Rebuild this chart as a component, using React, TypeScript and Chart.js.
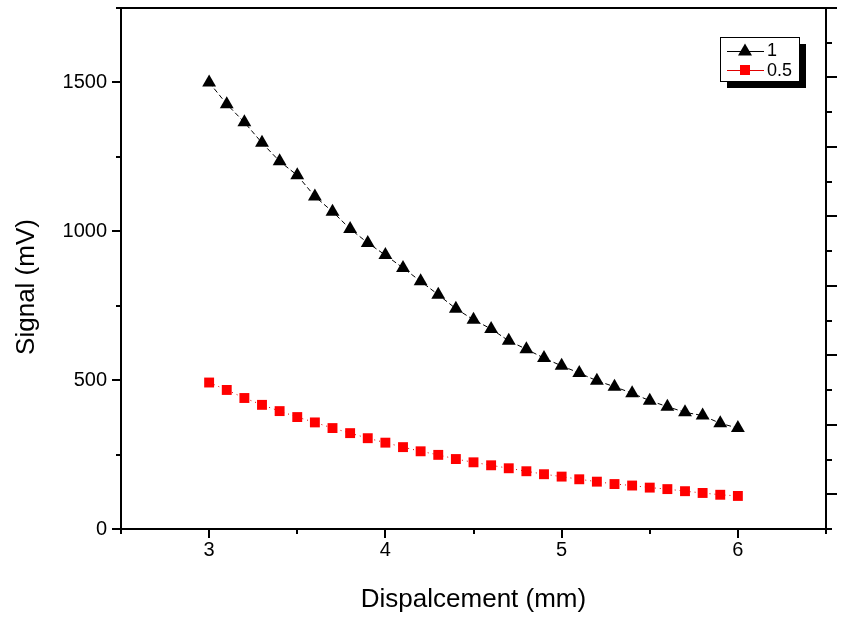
import React, { useEffect, useRef } from "react";
import { Chart, registerables } from "chart.js";

Chart.register(...registerables);

const displacement = [3.0, 3.1, 3.2, 3.3, 3.4, 3.5, 3.6, 3.7, 3.8, 3.9, 4.0, 4.1, 4.2, 4.3, 4.4, 4.5, 4.6, 4.7, 4.8, 4.9, 5.0, 5.1, 5.2, 5.3, 5.4, 5.5, 5.6, 5.7, 5.8, 5.9, 6.0];
const series1Label = "1";
const series1 = [1500, 1427, 1366, 1297, 1235, 1188, 1117, 1066, 1008, 961, 920, 877, 832, 787, 740, 703, 672, 632, 604, 574, 548, 524, 498, 478, 456, 431, 411, 392, 381, 355, 339];
const series2Label = "0.5";
const series2 = [492, 467, 440, 417, 396, 376, 358, 339, 322, 305, 290, 275, 261, 249, 235, 224, 214, 204, 194, 184, 176, 167, 159, 151, 146, 139, 134, 127, 121, 115, 111];

const xMajorTicks = [3, 4, 5, 6];
const xMinorTicks = [2.5, 3.5, 4.5, 5.5, 6.5];
const yMajorTicks = [0, 500, 1000, 1500];
const yMinorTicks = [250, 750, 1250, 1750];
const rightMajorTicks = [0, 1, 2, 3, 4, 5, 6, 7];
const rightMinorTicks = [-0.5, 0.5, 1.5, 2.5, 3.5, 4.5, 5.5, 6.5];

const xTitle = "Dispalcement (mm)";
const yTitle = "Signal (mV)";

const FONT = "'Liberation Sans', Arial, sans-serif";

const tickPlugin = {
  id: "originTicks",
  afterDraw(chart: any) {
    const ctx = chart.ctx;
    const area = chart.chartArea;
    ctx.save();
    ctx.strokeStyle = "#000";
    ctx.lineWidth = 2;
    const specs = [
      { id: "x", major: xMajorTicks, minor: xMinorTicks, side: "bottom", ml: 9, nl: 5 },
      { id: "y", major: yMajorTicks, minor: yMinorTicks, side: "left", ml: 9, nl: 5 },
      { id: "y2", major: rightMajorTicks, minor: rightMinorTicks, side: "right", ml: 11, nl: 6 },
    ];
    for (const s of specs) {
      const scale = chart.scales[s.id];
      const draw = (v: number, len: number) => {
        const p = Math.round(scale.getPixelForValue(v));
        ctx.beginPath();
        if (s.side === "bottom") {
          ctx.moveTo(p, area.bottom);
          ctx.lineTo(p, area.bottom + len);
        } else if (s.side === "left") {
          ctx.moveTo(area.left, p);
          ctx.lineTo(area.left - len, p);
        } else {
          ctx.moveTo(area.right, p);
          ctx.lineTo(area.right + len, p);
        }
        ctx.stroke();
      };
      s.major.forEach((v) => draw(v, s.ml));
      s.minor.forEach((v) => draw(v, s.nl));
    }
    // y axis title (placed like the original, slightly below centre)
    ctx.save();
    ctx.fillStyle = "#000";
    ctx.font = `26px ${FONT}`;
    ctx.textAlign = "center";
    ctx.textBaseline = "middle";
    ctx.translate(27, 287);
    ctx.rotate(-Math.PI / 2);
    ctx.fillText(yTitle, 0, 0);
    ctx.restore();
    ctx.restore();
  },
};

const legendPlugin = {
  id: "originLegend",
  afterDraw(chart: any) {
    const ctx = chart.ctx;
    const area = chart.chartArea;
    const bx = area.right - 106;
    const by = area.top + 29;
    const bw = 79;
    const bh = 44;
    ctx.save();
    ctx.fillStyle = "#000";
    ctx.fillRect(bx + 7, by + 7, bw, bh);
    ctx.fillStyle = "#fff";
    ctx.fillRect(bx, by, bw, bh);
    ctx.strokeStyle = "#000";
    ctx.lineWidth = 1;
    ctx.strokeRect(bx + 0.5, by + 0.5, bw, bh);
    const rows = [by + 13.5, by + 33];
    chart.data.datasets.forEach((ds: any, i: number) => {
      const y = rows[i];
      ctx.strokeStyle = ds.borderColor;
      ctx.lineWidth = 1;
      ctx.beginPath();
      ctx.moveTo(bx + 7, Math.round(y) + 0.5);
      ctx.lineTo(bx + 44, Math.round(y) + 0.5);
      ctx.stroke();
      ctx.fillStyle = ds.pointBackgroundColor;
      ctx.beginPath();
      if (ds.pointStyle === "triangle") {
        const cx = bx + 25;
        ctx.moveTo(cx, y - 7);
        ctx.lineTo(cx + 7, y + 5);
        ctx.lineTo(cx - 7, y + 5);
        ctx.closePath();
      } else {
        ctx.rect(bx + 25 - 5, y - 5, 10, 10);
      }
      ctx.fill();
      ctx.fillStyle = "#000";
      ctx.font = `18px ${FONT}`;
      ctx.textBaseline = "middle";
      ctx.textAlign = "left";
      ctx.fillText(ds.label, bx + 47, y + 1);
    });
    ctx.restore();
  },
};

const noPad = (s: any) => {
  s.paddingTop = 0;
  s.paddingBottom = 0;
  s.paddingLeft = 0;
  s.paddingRight = 0;
};

export default function App() {
  const ref = useRef<HTMLCanvasElement | null>(null);

  useEffect(() => {
    if (!ref.current) return;
    const border = { display: true, color: "#000", width: 2 };
    const chart = new Chart(ref.current, {
      type: "line",
      data: {
        datasets: [
          {
            label: series1Label,
            data: displacement.map((x, i) => ({ x, y: series1[i] })),
            borderColor: "#000",
            borderWidth: 1,
            borderDash: [5, 3],
            pointStyle: "triangle",
            pointRadius: 8,
            pointBackgroundColor: "#000",
            pointBorderWidth: 0,
            tension: 0,
            yAxisID: "y",
          },
          {
            label: series2Label,
            data: displacement.map((x, i) => ({ x, y: series2[i] })),
            borderColor: "#e00000",
            borderWidth: 1,
            borderDash: [1, 4],
            pointStyle: "rect",
            pointRadius: 7,
            pointBackgroundColor: "#ff0000",
            pointBorderWidth: 0,
            tension: 0,
            yAxisID: "y",
          },
        ] as any,
      },
      options: {
        animation: false,
        responsive: false,
        events: [],
        layout: { padding: { top: 8, left: 0, right: 0, bottom: 0 } },
        plugins: { legend: { display: false }, tooltip: { enabled: false } },
        scales: {
          x: {
            type: "linear",
            position: "bottom",
            min: 2.5,
            max: 6.5,
            afterBuildTicks: (s: any) => {
              s.ticks = xMajorTicks.map((v) => ({ value: v }));
            },
            afterFit: (s: any) => {
              s.height = 95;
              noPad(s);
            },
            grid: { display: false, drawTicks: false },
            border,
            ticks: { color: "#000", font: { family: FONT, size: 20 }, padding: 9, maxRotation: 0, autoSkip: false, callback: (v: any) => String(v) },
            title: { display: true, text: xTitle, color: "#000", font: { family: FONT, size: 26 }, padding: { top: 0, bottom: 9 } },
          },
          xTop: {
            type: "linear",
            position: "top",
            min: 2.5,
            max: 6.5,
            afterFit: (s: any) => {
              s.height = 0;
              noPad(s);
            },
            grid: { display: false, drawTicks: false },
            border,
            ticks: { display: false },
          },
          y: {
            type: "linear",
            position: "left",
            min: 0,
            max: 1750,
            afterBuildTicks: (s: any) => {
              s.ticks = yMajorTicks.map((v) => ({ value: v }));
            },
            afterFit: (s: any) => {
              s.width = 121;
              noPad(s);
            },
            grid: { display: false, drawTicks: false },
            border,
            ticks: { color: "#000", font: { family: FONT, size: 20 }, padding: 14, autoSkip: false, callback: (v: any) => String(v) },
            title: { display: false },
          },
          y2: {
            type: "linear",
            position: "right",
            min: -0.5,
            max: 7,
            afterFit: (s: any) => {
              s.width = 35;
              noPad(s);
            },
            grid: { display: false, drawTicks: false },
            border,
            ticks: { display: false },
          },
        } as any,
      },
      plugins: [tickPlugin, legendPlugin],
    });
    return () => chart.destroy();
  }, []);

  return (
    <div style={{ position: "absolute", left: 0, top: 0, width: 861, height: 624, background: "#fff" }}>
      <canvas ref={ref} width={861} height={624} style={{ width: 861, height: 624, display: "block" }} />
    </div>
  );
}
